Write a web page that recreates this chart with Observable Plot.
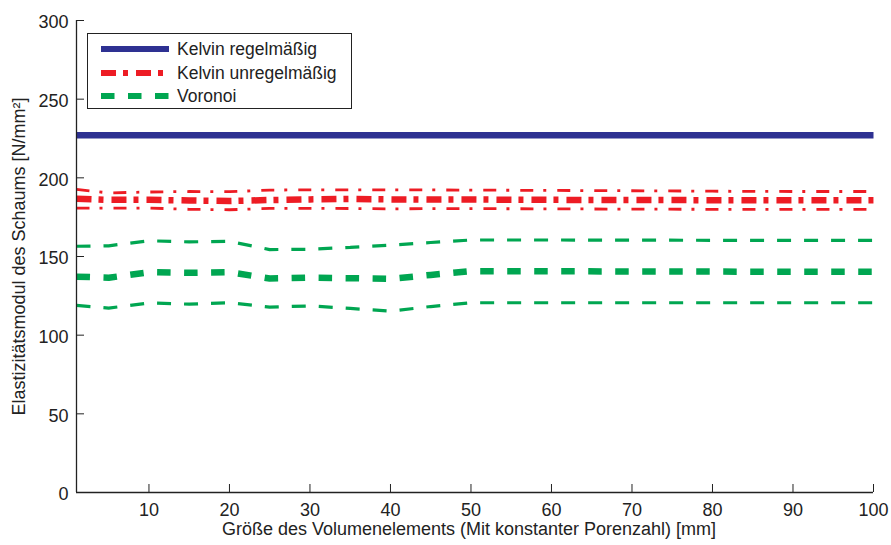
<!DOCTYPE html>
<html>
<head>
<meta charset="utf-8">
<script src="https://cdn.jsdelivr.net/npm/d3@7"></script>
<script src="https://cdn.jsdelivr.net/npm/@observablehq/plot@0.6"></script>
<style>
  body { margin: 0; background: #fff; }
  #wrap { position: relative; width: 891px; height: 545px; font-family: "Liberation Sans", Arial, sans-serif; }
  #legend { position: absolute; left: 87px; top: 33px; width: 263px; height: 74px; border: 1.3px solid #222; background: #fff; }
  .item { position: absolute; left: 0; height: 20px; display: flex; align-items: center; font-size: 17.5px; color: #222; white-space: nowrap; }
  .item svg { margin-left: 13px; margin-right: 8px; }
</style>
</head>
<body>
<div id="wrap">
  <div id="chart"></div>
  <div id="legend"></div>
</div>
<script>
// ---- data ----
const xs = [1, 5, 10, 15, 20, 25, 30, 35, 40, 45, 50, 60, 70, 80, 90, 100];

const kelvinRegular = [227, 227, 227, 227, 227, 227, 227, 227, 227, 227, 227, 227, 227, 227, 227, 227];

const kelvinIrrMean  = [186.7, 186.0, 186.0, 185.6, 185.3, 185.9, 186.3, 186.6, 186.3, 186.2, 186.2, 186.0, 185.9, 185.8, 185.7, 185.7];
const kelvinIrrUpper = [192.6, 190.4, 191.0, 191.3, 191.2, 192.2, 192.4, 192.4, 192.4, 192.3, 192.2, 192.0, 191.8, 191.5, 191.3, 191.3];
const kelvinIrrLower = [180.7, 180.8, 180.8, 180.0, 179.7, 180.6, 180.6, 180.5, 180.3, 180.4, 180.4, 180.3, 180.1, 180.0, 180.0, 180.0];

const voronoiMean  = [137.2, 136.5, 140.0, 139.6, 140.0, 136.0, 136.5, 136.2, 135.8, 138.3, 140.7, 140.6, 140.5, 140.4, 140.3, 140.3];
const voronoiUpper = [156.5, 156.8, 160.0, 159.3, 159.6, 154.4, 154.6, 155.8, 157.2, 158.9, 160.5, 160.5, 160.4, 160.3, 160.2, 160.2];
const voronoiLower = [118.9, 117.2, 120.5, 119.7, 120.6, 117.8, 118.6, 117.0, 115.3, 118.2, 120.6, 120.6, 120.6, 120.6, 120.6, 120.6];

const xTicks = [10, 20, 30, 40, 50, 60, 70, 80, 90, 100];
const yTicks = [0, 50, 100, 150, 200, 250, 300];

const xLabel = "Größe des Volumenelements (Mit konstanter Porenzahl) [mm]";
const yLabel = "Elastizitätsmodul des Schaums [N/mm²]";

const seriesNames = ["Kelvin regelmäßig", "Kelvin unregelmäßig", "Voronoi"];
const colors = ["#2E3192", "#ED1C24", "#00A651"];

// ---- build ----
const rows = (ys) => xs.map((x, i) => ({x, y: ys[i]}));

const redMeanDash = "15,7,5,8";
const redThinDash = "13,10,3,11";
const greenMeanDash = "13.5,13.5";
const greenThinDash = "14,13";

const lineOpts = (color, width, dash) => ({x: "x", y: "y", stroke: color, strokeWidth: width, strokeDasharray: dash, strokeLinecap: "butt", strokeLinejoin: "miter"});

const chart = Plot.plot({
  width: 891,
  height: 545,
  marginLeft: 76,
  marginRight: 18,
  marginTop: 20,
  marginBottom: 53,
  style: {fontFamily: "'Liberation Sans', Arial, sans-serif", fontSize: "18px", color: "#222", background: "#fff", overflow: "visible"},
  x: {domain: [1, 100]},
  y: {domain: [0, 300]},
  marks: [
    Plot.line(rows(voronoiUpper), lineOpts(colors[2], 3.2, greenThinDash)),
    Plot.line(rows(voronoiLower), lineOpts(colors[2], 3.2, greenThinDash)),
    Plot.line(rows(voronoiMean), lineOpts(colors[2], 6.5, greenMeanDash)),
    Plot.line(rows(kelvinIrrUpper), lineOpts(colors[1], 2.8, redThinDash)),
    Plot.line(rows(kelvinIrrLower), lineOpts(colors[1], 2.8, redThinDash)),
    Plot.line(rows(kelvinIrrMean), lineOpts(colors[1], 6.5, redMeanDash)),
    Plot.line(rows(kelvinRegular), lineOpts(colors[0], 6.5, null)),
    Plot.ruleY([0], {stroke: "#222", strokeWidth: 1.3}),
    Plot.ruleX([1], {stroke: "#222", strokeWidth: 1.3}),
    Plot.axisX({ticks: xTicks, tickSize: -8, tickPadding: 19, label: null, stroke: "#222", fontSize: 18}),
    // inward y ticks (no labels)
    Plot.axisY({ticks: yTicks, tickSize: -8, tickFormat: () => "", label: null, stroke: "#222"}),
    // y tick labels
    Plot.axisY({ticks: yTicks, tickSize: 0, tickPadding: 8, dy: 2, label: null, strokeOpacity: 0, fontSize: 18}),
    Plot.text([xLabel], {text: d => d, frameAnchor: "bottom", textAnchor: "middle", dy: 42, dx: -6, fontSize: 18, fill: "#222"}),
    Plot.text([yLabel], {text: d => d, frameAnchor: "left", textAnchor: "middle", rotate: -90, dx: -57, fontSize: 18, fill: "#222"})
  ]
});
document.getElementById("chart").appendChild(chart);

// ---- legend (inside plot area, as in reference) ----
const legendDash = [null, redMeanDash, greenMeanDash];
const legendTop = [5, 29, 52];
const legend = document.getElementById("legend");
seriesNames.forEach((name, i) => {
  const item = document.createElement("div");
  item.className = "item";
  item.style.top = legendTop[i] + "px";
  const s = d3.create("svg").attr("width", 68).attr("height", 10);
  s.append("line").attr("x1", 0).attr("x2", 68).attr("y1", 5).attr("y2", 5)
    .attr("stroke", colors[i]).attr("stroke-width", 6)
    .attr("stroke-dasharray", legendDash[i]).attr("stroke-linecap", "butt");
  item.appendChild(s.node());
  const t = document.createElement("span");
  t.textContent = name;
  item.appendChild(t);
  legend.appendChild(item);
});
</script>
</body>
</html>
